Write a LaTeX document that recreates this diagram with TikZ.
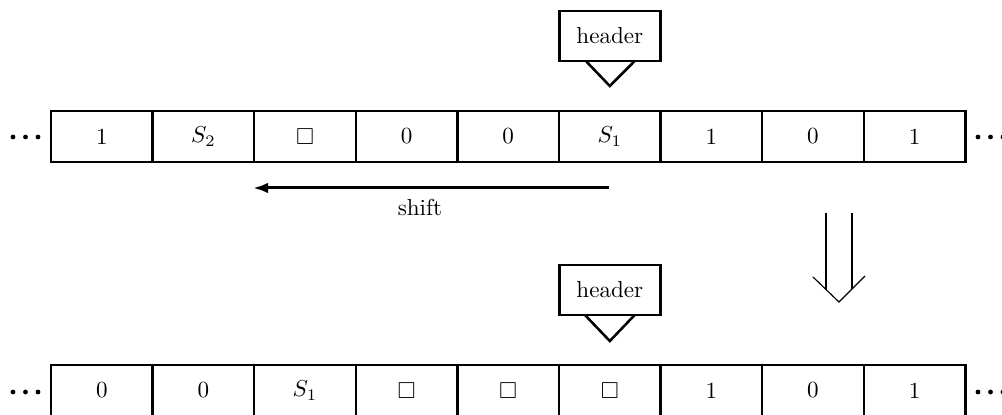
\documentclass[tikz,border=0pt]{standalone}
\usepackage{amssymb}
\usetikzlibrary{arrows.meta}
\begin{document}
\begin{tikzpicture}[x=0.433pt,y=-0.433pt,
  cell/.style={draw,line width=1.1pt,minimum width=44pt,minimum height=22.1pt,
    inner sep=0pt,outer sep=0pt,anchor=center},
  hdrbox/.style={draw,line width=1.1pt,minimum width=43.7pt,minimum height=21.6pt,
    inner sep=0pt,outer sep=0pt},
  pointer/.style={line width=1.1pt,line join=miter},
  dotmark/.style={fill=black},
  shiftarrow/.style={line width=1.3pt,-{Latex[length=6.5pt,width=4.6pt]}},
  bigdown/.style={line width=0.5pt}]
\useasboundingbox (0,0) rectangle (1002,415);

% top tape
\foreach \lbl [count=\i] in {1,$S_2$,$\Box$,0,0,$S_1$,1,0,1}
  \node[cell] (t\i) at ({51+101.6*(\i-0.5)},136.5) {\lbl};
% bottom tape
\foreach \lbl [count=\i] in {0,0,$S_1$,$\Box$,$\Box$,$\Box$,1,0,1}
  \node[cell] (b\i) at ({51+101.6*(\i-0.5)},390.5) {\lbl};

% continuation dots
\foreach \y in {137,392}{
  \foreach \x in {13,25.5,38,978,990.5,1003}
    \fill[dotmark] (\x,\y) circle[radius=2.4];
}

% read/write heads
\node[hdrbox] (h1) at (609.8,36) {header};
\coordinate (p1) at (609.8,86);
\draw[pointer] ([xshift=-10.4pt]h1.south) -- (p1) -- ([xshift=10.8pt]h1.south);

\node[hdrbox] (h2) at (609.8,290) {header};
\coordinate (p2) at (609.8,341);
\draw[pointer] ([xshift=-10.8pt]h2.south) -- (p2) -- ([xshift=10.8pt]h2.south);

% shift arrow
\coordinate (sa) at (609,188);
\coordinate (sb) at (253,188);
\draw[shiftarrow] (sa) -- (sb);
\node (shiftlbl) at (420,207) {shift};

% transition arrow
\coordinate (dl) at (826,213);
\coordinate (dr) at (852,213);
\coordinate (dtip) at (839,302);
\draw[bigdown] (dl) -- (826,290);
\draw[bigdown] (dr) -- (852,289);
\draw[bigdown] (813,277) -- (dtip) -- (865,276);
\end{tikzpicture}
\end{document}
